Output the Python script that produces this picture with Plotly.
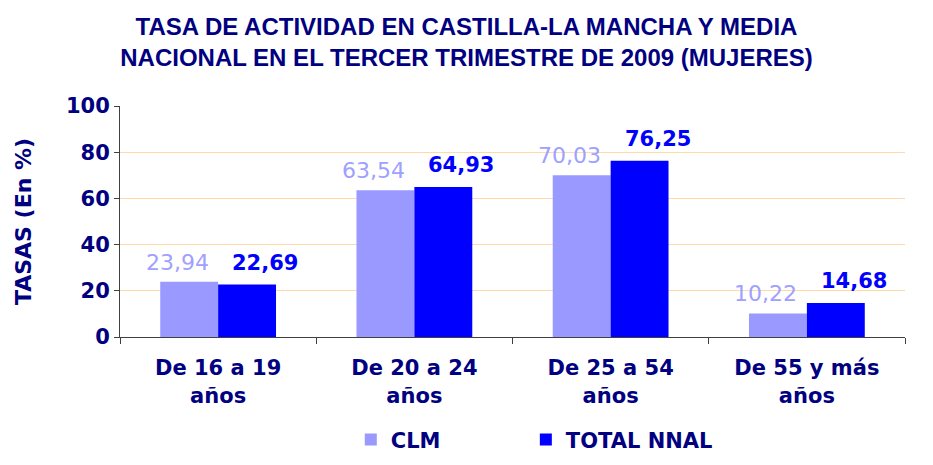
import plotly.graph_objects as go

categories = ["De 16 a 19<br>años", "De 20 a 24<br>años", "De 25 a 54<br>años", "De 55 y más<br>años"]
clm = [23.94, 63.54, 70.03, 10.22]
nnal = [22.69, 64.93, 76.25, 14.68]
clm_labels = ["23,94", "63,54", "70,03", "10,22"]
nnal_labels = ["22,69", "64,93", "76,25", "14,68"]

navy = "#000080"
c_clm = "#9999FF"
c_nnal = "#0000FF"
font_main = "DejaVu Sans"

fig = go.Figure()
fig.add_trace(go.Bar(x=categories, y=clm, name="CLM", marker=dict(color=c_clm, line=dict(width=0)),
                     offsetgroup="a", legend="legend"))
fig.add_trace(go.Bar(x=categories, y=nnal, name="TOTAL NNAL", marker=dict(color=c_nnal, line=dict(width=0)),
                     offsetgroup="b", legend="legend2"))

for i, cat in enumerate(categories):
    fig.add_annotation(x=cat, y=clm[i], text=clm_labels[i], showarrow=False, xanchor="center",
                       yanchor="bottom", xshift=-41, yshift=5,
                       font=dict(family=font_main, size=22, color="#A0A0FF"))
    fig.add_annotation(x=cat, y=nnal[i], text=nnal_labels[i], showarrow=False, xanchor="center",
                       yanchor="bottom", xshift=47, yshift=8,
                       font=dict(family=font_main, size=21, color=c_nnal, weight="bold"))

legend_font = dict(family=font_main, size=21, color=navy, weight="bold")
fig.update_layout(
    width=933, height=465,
    paper_bgcolor="white", plot_bgcolor="white",
    margin=dict(l=120, r=28, t=106, b=128, autoexpand=False),
    barmode="group", bargap=0.41, bargroupgap=0,
    title=dict(text="TASA DE ACTIVIDAD EN CASTILLA-LA MANCHA Y MEDIA<br>NACIONAL EN EL TERCER TRIMESTRE DE 2009 (MUJERES)",
               x=0.5, xanchor="center", yref="container", y=0.925, yanchor="middle",
               font=dict(family="Liberation Sans", size=24, color=navy, weight="bold")),
    font=dict(family=font_main, color=navy),
    legend=dict(orientation="h", x=0.294, xanchor="left", yref="container", y=0.054, yanchor="middle",
                font=legend_font, bgcolor="rgba(0,0,0,0)"),
    legend2=dict(orientation="h", x=0.517, xanchor="left", yref="container", y=0.054, yanchor="middle",
                 font=legend_font, bgcolor="rgba(0,0,0,0)"),
    showlegend=True,
)
fig.update_yaxes(range=[0, 100], dtick=20, showgrid=True, gridcolor="#FFD9A8", gridwidth=1,
                 showline=True, linecolor="#404040", linewidth=1, ticks="outside", ticklen=5,
                 tickcolor="#404040", zeroline=False, automargin=False,
                 tickfont=dict(family=font_main, size=21, color=navy, weight="bold"),
                 title=dict(text="TASAS (En %)", standoff=28,
                            font=dict(family=font_main, size=22, color=navy, weight="bold")))
fig.update_xaxes(showline=True, linecolor="#404040", linewidth=1, ticks="outside", ticklen=6,
                 tickcolor="#404040", tickson="boundaries", automargin=False, ticklabelstandoff=12,
                 tickfont=dict(family=font_main, size=21, color=navy, weight="bold"))

fig.write_html("out.html")
